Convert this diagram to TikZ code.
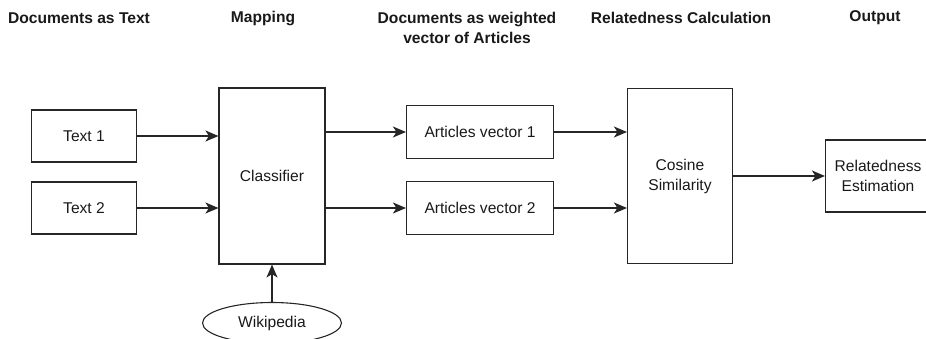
\documentclass[tikz,border=0pt]{standalone}
\usepackage{fontspec}
\setmainfont{Liberation Sans}
\usetikzlibrary{arrows.meta,shapes.geometric}
\tikzset{
  box/.style={draw=black!85, line width=1.1pt, inner sep=0pt, align=center},
  head/.style={font=\fontsize{15.6}{20}\selectfont\bfseries, text=black!90, align=center, inner sep=0pt},
  link/.style={draw=black!85, line width=1.1pt, -{Stealth[length=13pt,width=11pt,inset=3.5pt]}}
}
\begin{document}
\begin{tikzpicture}[x=1pt, y=-1pt, font=\fontsize{15.6}{20}\selectfont, text=black!90]
        \useasboundingbox (0, 0) rectangle (926, 338);
        % column titles
        \node[head] (hdocs) at (79, 18) {Documents as Text};
        \node[head] (hmap) at (263, 18) {Mapping};
        \node[head] (hvec) at (467, 28) {Documents as weighted\\vector of Articles};
        \node[head] (hcalc) at (681, 18) {Relatedness Calculation};
        \node[head] (hout) at (875, 18) {Output};
        % blocks
        \node[box, minimum width=105pt, minimum height=52pt] (text1) at (84, 136) {Text 1};
        \node[box, minimum width=105pt, minimum height=52pt] (text2) at (84, 208) {Text 2};
        \node[box, minimum width=106pt, minimum height=176pt] (classifier) at (272, 176) {Classifier};
        \node[box, minimum width=147pt, minimum height=53pt] (art1) at (480, 132) {Articles vector 1};
        \node[box, minimum width=147pt, minimum height=53pt] (art2) at (480, 208) {Articles vector 2};
        \node[box, minimum width=105pt, minimum height=175pt] (cosine) at (680, 176) {Cosine\\Similarity};
        \node[box, minimum width=105pt, minimum height=72pt] (related) at (878, 176) {Relatedness\\Estimation};
        \node[box, ellipse, minimum width=139pt, minimum height=41pt] (wiki) at (272, 323) {Wikipedia};
        % connectors
        \foreach \Src in {text1, text2}{
          \draw[link] (\Src.east) -- (\Src.east -| classifier.west);
        }
        \foreach \Dst in {art1, art2}{
          \draw[link] (classifier.east |- \Dst.west) -- (\Dst.west);
          \draw[link] (\Dst.east) -- (\Dst.east -| cosine.west);
        }
        \draw[link] (cosine.east) -- (related.west);
        \draw[link] (wiki.north) -- (classifier.south);
      \end{tikzpicture}
\end{document}
